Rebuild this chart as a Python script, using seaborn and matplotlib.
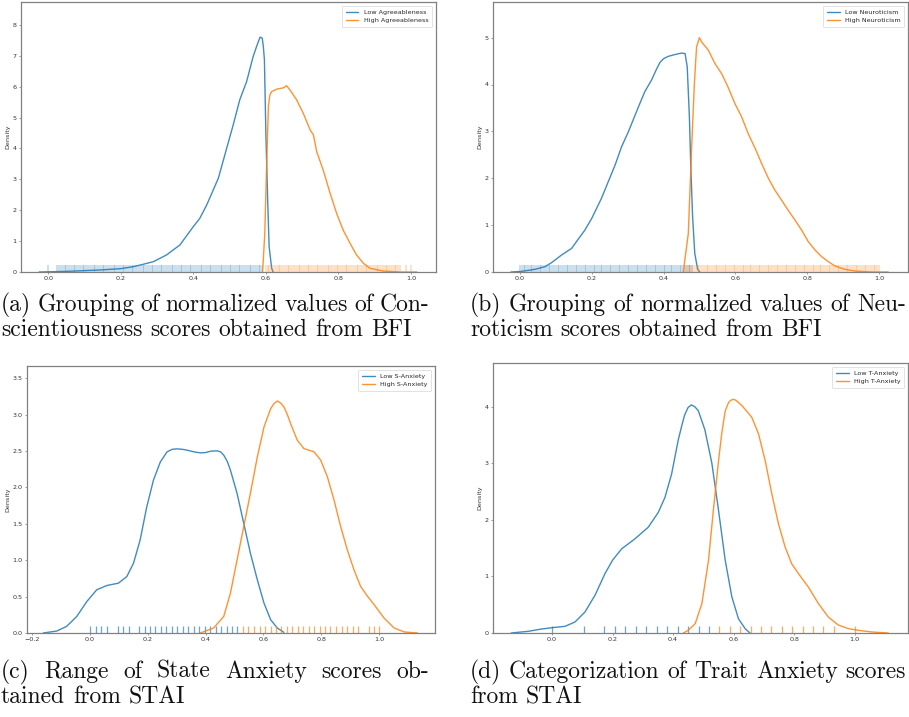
import matplotlib
matplotlib.use("Agg")
import matplotlib.pyplot as plt
import seaborn as sns

# ---------------------------------------------------------------- data
# (a) Conscientiousness (BFI) - density curves
a_low_x = [-0.025, 0.05, 0.142, 0.2, 0.234, 0.262, 0.29, 0.326, 0.363, 0.4, 0.418, 0.437, 0.455,
           0.469, 0.492, 0.51, 0.528, 0.547, 0.565, 0.575, 0.584, 0.59, 0.593, 0.596, 0.6, 0.605,
           0.609, 0.616, 0.62]
a_low_y = [0.0, 0.02, 0.065, 0.108, 0.17, 0.25, 0.335, 0.551, 0.875, 1.469, 1.739, 2.171, 2.657,
           3.035, 4.006, 4.762, 5.572, 6.166, 6.976, 7.32, 7.603, 7.57, 7.3, 6.87, 4.49, 2.33,
           0.82, 0.12, 0.0]
a_high_x = [0.591, 0.597, 0.602, 0.607, 0.611, 0.616, 0.63, 0.648, 0.657, 0.666, 0.685, 0.703, 0.722,
            0.731, 0.74, 0.758, 0.777, 0.795, 0.813, 0.832, 0.85, 0.869, 0.887, 0.924, 0.97, 1.016]
a_high_y = [0.0, 1.25, 3.41, 5.36, 5.73, 5.84, 5.92, 5.96, 6.03, 5.9, 5.57, 5.14, 4.6,
            4.44, 3.9, 3.3, 2.55, 1.9, 1.36, 0.93, 0.55, 0.28, 0.12, 0.03, 0.0, 0.0]
# (a) observed normalized scores
a_low_rug = [0.0,
             0.025, 0.03, 0.035, 0.04, 0.045, 0.05, 0.055, 0.06, 0.065, 0.07, 0.075, 0.08, 0.085,
             0.09, 0.095, 0.1, 0.105, 0.11, 0.115, 0.12, 0.125, 0.13, 0.135, 0.14, 0.145, 0.15,
             0.155, 0.16, 0.165, 0.17, 0.175, 0.18, 0.185, 0.19, 0.195, 0.2, 0.205, 0.21, 0.215,
             0.22, 0.225, 0.23, 0.235, 0.24, 0.245, 0.25, 0.255, 0.26, 0.265, 0.27, 0.275, 0.28,
             0.285, 0.29, 0.295, 0.3, 0.305, 0.31, 0.315, 0.32, 0.325, 0.33, 0.335, 0.34, 0.345,
             0.35, 0.355, 0.36, 0.365, 0.37, 0.375, 0.38, 0.385, 0.39, 0.395, 0.4, 0.405, 0.41,
             0.415, 0.42, 0.425, 0.43, 0.435, 0.44, 0.445, 0.45, 0.455, 0.46, 0.465, 0.47, 0.475,
             0.48, 0.485, 0.49, 0.495, 0.5, 0.505, 0.51, 0.515, 0.52, 0.525, 0.53, 0.535, 0.54,
             0.545, 0.55, 0.555, 0.56, 0.565, 0.57, 0.575, 0.58, 0.585, 0.59]
a_high_rug = [0.6, 0.605, 0.61, 0.615, 0.62, 0.625, 0.63, 0.635, 0.64, 0.645, 0.65, 0.655, 0.66,
              0.665, 0.67, 0.675, 0.68, 0.685, 0.69, 0.695, 0.7, 0.705, 0.71, 0.715, 0.72, 0.725,
              0.73, 0.735, 0.74, 0.745, 0.75, 0.755, 0.76, 0.765, 0.77, 0.775, 0.78, 0.785, 0.79,
              0.795, 0.8, 0.805, 0.81, 0.815, 0.82, 0.825, 0.83, 0.835, 0.84, 0.845, 0.85, 0.855,
              0.86, 0.865, 0.87, 0.875, 0.88, 0.885, 0.89, 0.895, 0.9, 0.905, 0.91, 0.915, 0.92,
              0.925, 0.93, 0.935, 0.94, 0.945, 0.95, 0.955, 0.96, 0.965, 0.97, 0.985, 1.0]

# (b) Neuroticism (BFI) - density curves
b_low_x = [-0.025, 0.005, 0.042, 0.07, 0.088, 0.116, 0.144, 0.162, 0.181, 0.2, 0.227, 0.246, 0.265,
           0.283, 0.302, 0.33, 0.348, 0.367, 0.38, 0.39, 0.4, 0.413, 0.432, 0.45, 0.46, 0.466,
           0.472, 0.476, 0.481, 0.487, 0.495, 0.501]
b_low_y = [0.0, 0.014, 0.057, 0.114, 0.199, 0.362, 0.504, 0.696, 0.895, 1.143, 1.57, 1.925, 2.28,
           2.67, 2.99, 3.52, 3.85, 4.1, 4.32, 4.47, 4.55, 4.6, 4.64, 4.67, 4.66, 4.38,
           3.32, 2.24, 1.18, 0.4, 0.057, 0.0]
b_high_x = [0.455, 0.469, 0.478, 0.486, 0.492, 0.5, 0.506, 0.525, 0.543, 0.562, 0.58, 0.599, 0.617,
            0.636, 0.655, 0.673, 0.692, 0.71, 0.729, 0.747, 0.766, 0.785, 0.803, 0.822, 0.84,
            0.859, 0.877, 0.905, 0.933, 0.98, 1.026]
b_high_y = [0.0, 0.82, 2.6, 4.03, 4.8, 5.0, 4.91, 4.73, 4.45, 4.23, 3.94, 3.59, 3.32,
            2.95, 2.64, 2.32, 2.0, 1.75, 1.53, 1.32, 1.11, 0.89, 0.65, 0.47, 0.33,
            0.22, 0.13, 0.057, 0.021, 0.0, 0.0]
b_low_rug = [0.0, 0.005, 0.01, 0.015, 0.02, 0.025, 0.03, 0.035, 0.04, 0.045, 0.05, 0.055, 0.06,
             0.065, 0.07, 0.075, 0.08, 0.085, 0.09, 0.095, 0.1, 0.105, 0.11, 0.115, 0.12, 0.125,
             0.13, 0.135, 0.14, 0.145, 0.15, 0.155, 0.16, 0.165, 0.17, 0.175, 0.18, 0.185, 0.19,
             0.195, 0.2, 0.205, 0.21, 0.215, 0.22, 0.225, 0.23, 0.235, 0.24, 0.245, 0.25, 0.255,
             0.26, 0.265, 0.27, 0.275, 0.28, 0.285, 0.29, 0.295, 0.3, 0.305, 0.31, 0.315, 0.32,
             0.325, 0.33, 0.335, 0.34, 0.345, 0.35, 0.355, 0.36, 0.365, 0.37, 0.375, 0.38, 0.385,
             0.39, 0.395, 0.4, 0.405, 0.41, 0.415, 0.42, 0.425, 0.43, 0.435, 0.44, 0.445, 0.45,
             0.455, 0.46, 0.465, 0.47, 0.475, 0.48]
b_high_rug = [0.46, 0.465, 0.47, 0.475, 0.48, 0.485, 0.49, 0.495, 0.5, 0.505, 0.51, 0.515, 0.52,
              0.525, 0.53, 0.535, 0.54, 0.545, 0.55, 0.555, 0.56, 0.565, 0.57, 0.575, 0.58, 0.585,
              0.59, 0.595, 0.6, 0.605, 0.61, 0.615, 0.62, 0.625, 0.63, 0.635, 0.64, 0.645, 0.65,
              0.655, 0.66, 0.665, 0.67, 0.675, 0.68, 0.685, 0.69, 0.695, 0.7, 0.705, 0.71, 0.715,
              0.72, 0.725, 0.73, 0.735, 0.74, 0.745, 0.75, 0.755, 0.76, 0.765, 0.77, 0.775, 0.78,
              0.785, 0.79, 0.795, 0.8, 0.805, 0.81, 0.815, 0.82, 0.825, 0.83, 0.835, 0.84, 0.845,
              0.85, 0.855, 0.86, 0.865, 0.87, 0.875, 0.88, 0.885, 0.89, 0.895, 0.9, 0.905, 0.91,
              0.915, 0.92, 0.925, 0.93, 0.935, 0.94, 0.945, 0.95, 0.955, 0.96, 0.965, 0.97, 0.975,
              0.98, 0.985, 0.99, 0.995, 1.0]

# (c) State Anxiety (STAI) - density curves
c_low_x = [-0.161, -0.114, -0.08, -0.045, -0.01, 0.024, 0.059, 0.099, 0.128, 0.151, 0.174, 0.197,
           0.22, 0.244, 0.267, 0.285, 0.301, 0.32, 0.336, 0.36, 0.382, 0.4, 0.417, 0.44, 0.452,
           0.463, 0.475, 0.486, 0.509, 0.532, 0.555, 0.579, 0.602, 0.625, 0.648, 0.671]
c_low_y = [0.0, 0.027, 0.091, 0.228, 0.434, 0.594, 0.653, 0.685, 0.776, 0.959, 1.279, 1.736,
           2.102, 2.353, 2.49, 2.525, 2.531, 2.525, 2.513, 2.49, 2.476, 2.48, 2.499, 2.504, 2.49,
           2.444, 2.36, 2.239, 1.919, 1.508, 1.097, 0.731, 0.411, 0.183, 0.068, 0.009]
c_high_x = [0.382, 0.428, 0.463, 0.486, 0.509, 0.532, 0.555, 0.579, 0.602, 0.625, 0.636, 0.648,
            0.66, 0.671, 0.683, 0.694, 0.717, 0.74, 0.775, 0.798, 0.821, 0.844, 0.867, 0.89,
            0.913, 0.936, 0.96, 0.983, 1.017, 1.052, 1.087, 1.133]
c_high_y = [0.0, 0.069, 0.228, 0.548, 1.005, 1.462, 1.919, 2.421, 2.832, 3.083, 3.15, 3.189,
            3.16, 3.106, 3.0, 2.878, 2.65, 2.535, 2.49, 2.376, 2.147, 1.828, 1.462, 1.142,
            0.868, 0.64, 0.503, 0.388, 0.205, 0.068, 0.014, 0.0]
c_low_rug = [0.0, 0.02, 0.039, 0.058, 0.097, 0.115, 0.134, 0.171, 0.19, 0.208, 0.227, 0.246,
             0.264, 0.284, 0.302, 0.321, 0.34, 0.359, 0.379, 0.397, 0.416, 0.435, 0.454, 0.473,
             0.492, 0.51]
c_high_rug = [0.529, 0.548, 0.567, 0.587, 0.605, 0.625, 0.643, 0.662, 0.681, 0.7, 0.718, 0.738,
              0.756, 0.775, 0.794, 0.813, 0.831, 0.851, 0.87, 0.888, 0.908, 0.926, 0.964, 0.983,
              1.0]

# (d) Trait Anxiety (STAI) - density curves
d_low_x = [-0.135, -0.078, -0.034, 0.0, 0.043, 0.076, 0.109, 0.142, 0.175, 0.2, 0.23, 0.274,
           0.318, 0.351, 0.373, 0.395, 0.417, 0.428, 0.438, 0.449, 0.46, 0.471, 0.483, 0.505,
           0.528, 0.55, 0.572, 0.594, 0.616, 0.638, 0.654]
d_low_y = [0.0, 0.03, 0.071, 0.094, 0.118, 0.195, 0.372, 0.667, 1.05, 1.286, 1.487, 1.664,
           1.87, 2.13, 2.395, 2.808, 3.41, 3.65, 3.85, 3.98, 4.03, 4.0, 3.93, 3.59,
           3.0, 2.17, 1.29, 0.64, 0.25, 0.077, 0.0]
d_high_x = [0.434, 0.45, 0.473, 0.495, 0.517, 0.533, 0.55, 0.561, 0.572, 0.583, 0.59, 0.599,
            0.608, 0.616, 0.627, 0.638, 0.66, 0.682, 0.704, 0.726, 0.748, 0.77, 0.792, 0.814,
            0.847, 0.88, 0.913, 0.946, 0.979, 1.012, 1.056, 1.111]
d_high_y = [0.0, 0.047, 0.165, 0.519, 1.286, 2.17, 3.04, 3.54, 3.92, 4.07, 4.11, 4.13,
            4.11, 4.07, 4.02, 3.95, 3.81, 3.52, 3.05, 2.46, 1.93, 1.52, 1.22, 1.05,
            0.81, 0.52, 0.28, 0.14, 0.077, 0.047, 0.018, 0.0]
d_low_rug = [0.0, 0.105, 0.173, 0.208, 0.242, 0.276, 0.312, 0.346, 0.38, 0.415, 0.449, 0.485, 0.519]
d_high_rug = [0.553, 0.587, 0.621, 0.656, 0.69, 0.725, 0.759, 0.793, 0.828, 0.862, 0.896, 0.931, 1.0]

labels = {
    "a": ("Low Agreeableness", "High Agreeableness"),
    "b": ("Low Neuroticism", "High Neuroticism"),
    "c": ("Low S-Anxiety", "High S-Anxiety"),
    "d": ("Low T-Anxiety", "High T-Anxiety"),
}

captions = {
    "a": ["(a) Grouping of normalized values of Con-", "scientiousness scores obtained from BFI"],
    "b": ["(b) Grouping of normalized values of Neu-", "roticism scores obtained from BFI"],
    "c": ["(c) Range of State Anxiety scores ob-", "tained from STAI"],
    "d": ["(d) Categorization of Trait Anxiety scores", "from STAI"],
}

# ---------------------------------------------------------------- style
sns.set_style("ticks")
plt.rcParams.update({
    "font.family": ["DejaVu Sans"],
    "axes.edgecolor": "#808080",
    "axes.linewidth": 0.9,
    "xtick.color": "#555555",
    "ytick.color": "#555555",
    "xtick.labelcolor": "#333333",
    "ytick.labelcolor": "#333333",
    "xtick.major.size": 1.5,
    "ytick.major.size": 1.5,
    "xtick.major.width": 0.4,
    "ytick.major.width": 0.4,
    "xtick.labelsize": 4.6,
    "ytick.labelsize": 4.6,
    "xtick.major.pad": 1.5,
    "ytick.major.pad": 1.5,
})

BLUE = "#1f77b4"
ORANGE = "#ff7f0e"
W, H = 909, 717

fig = plt.figure(figsize=(W / 100, H / 100), dpi=100)


def axes_px(x0, y0, x1, y1):
    return fig.add_axes([x0 / W, 1 - y1 / H, (x1 - x0) / W, (y1 - y0) / H])


panels = {
    "a": dict(box=(21, 2, 436, 272), xlim=(-0.075, 1.069), ylim=(0, 8.74),
              yticks=[0, 1, 2, 3, 4, 5, 6, 7, 8], xticks=[0.0, 0.2, 0.4, 0.6, 0.8, 1.0],
              curves=((a_low_x, a_low_y), (a_high_x, a_high_y)), rugs=(a_low_rug, a_high_rug),
              rug_alpha=0.3, rug_lw=1.1),
    "b": dict(box=(493, 2, 908, 272), xlim=(-0.075, 1.081), ylim=(0, 5.76),
              yticks=[0, 1, 2, 3, 4, 5], xticks=[0.0, 0.2, 0.4, 0.6, 0.8, 1.0],
              curves=((b_low_x, b_low_y), (b_high_x, b_high_y)), rugs=(b_low_rug, b_high_rug),
              rug_alpha=0.3, rug_lw=1.1),
    "c": dict(box=(27, 366, 435, 633), xlim=(-0.217, 1.193), ylim=(0, 3.67),
              yticks=[0.0, 0.5, 1.0, 1.5, 2.0, 2.5, 3.0, 3.5],
              xticks=[-0.2, 0.0, 0.2, 0.4, 0.6, 0.8, 1.0],
              curves=((c_low_x, c_low_y), (c_high_x, c_high_y)), rugs=(c_low_rug, c_high_rug),
              rug_alpha=0.65, rug_lw=0.9),
    "d": dict(box=(493, 363, 908, 633), xlim=(-0.195, 1.176), ylim=(0, 4.77),
              yticks=[0, 1, 2, 3, 4], xticks=[0.0, 0.2, 0.4, 0.6, 0.8, 1.0],
              curves=((d_low_x, d_low_y), (d_high_x, d_high_y)), rugs=(d_low_rug, d_high_rug),
              rug_alpha=0.65, rug_lw=0.9),
}

for key, p in panels.items():
    ax = axes_px(*p["box"])
    for (xs, ys), rug, color, lab in zip(p["curves"], p["rugs"], (BLUE, ORANGE), labels[key]):
        sns.lineplot(x=xs, y=ys, ax=ax, color=color, linewidth=1.0, alpha=0.85, label=lab,
                     estimator=None)
        sns.rugplot(x=rug, ax=ax, color=color, height=0.025, expand_margins=False,
                    alpha=p["rug_alpha"], linewidth=p["rug_lw"])
    ax.set_xlim(*p["xlim"])
    ax.set_ylim(*p["ylim"])
    ax.set_xticks(p["xticks"])
    ax.set_yticks(p["yticks"])
    ax.set_ylabel("Density", fontsize=4.6, labelpad=2, color="#333333")
    ax.set_xlabel("")
    for s in ax.spines.values():
        s.set_visible(True)
    leg = ax.legend(loc="upper right", fontsize=4.6, frameon=True, handlelength=2.0,
                    borderpad=0.6, labelspacing=0.45, handletextpad=0.8, borderaxespad=0.6,
                    fancybox=True)
    leg.get_frame().set_linewidth(0.5)
    leg.get_frame().set_edgecolor("#cccccc")
    for line in leg.get_lines():
        line.set_linewidth(1.0)

# ---------------------------------------------------------------- captions
renderer = fig.canvas.get_renderer()


def natural_width(text, size):
    words = text.split(" ")
    total = 0.0
    for w in words:
        t = fig.text(0, 0, w, fontsize=size, family="cmr10")
        total += t.get_window_extent(renderer).width
        t.remove()
    return total + (len(words) - 1) * size * 100 / 72 * 0.333


# size the caption font so the tightly set line (d) fills its column
CAP_FS = 10 * 436 / natural_width(captions["d"][0], 10)


def caption_line(text, x0, x1, y_base, justify):
    words = text.split(" ")
    items = [fig.text(0, 0, w, fontsize=CAP_FS, family="cmr10", va="baseline", ha="left",
                      color="#111111") for w in words]
    widths = [t.get_window_extent(renderer).width for t in items]
    if justify and len(words) > 1:
        gap = (x1 - x0 - sum(widths)) / (len(words) - 1)
    else:
        gap = CAP_FS * 100 / 72 * 0.333
    x = x0
    for t, w in zip(items, widths):
        t.set_position((x / W, 1 - y_base / H))
        x += w + gap


cap_layout = {
    "a": (1, 429, 311),
    "b": (470, 906, 311),
    "c": (1, 429, 678),
    "d": (470, 906, 678),
}
for key, (x0, x1, yb) in cap_layout.items():
    first, second = captions[key]
    caption_line(first, x0, x1, yb, justify=True)
    caption_line(second, x0, x1, yb + 25, justify=False)

fig.savefig("out.png", dpi=100)
